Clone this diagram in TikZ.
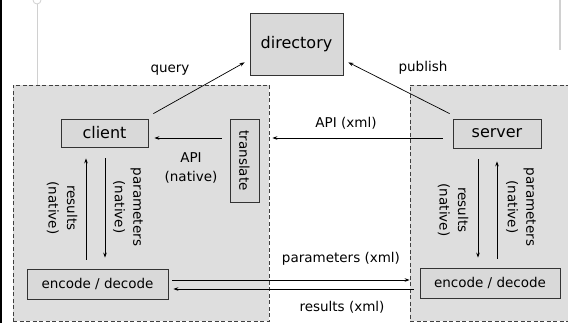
\documentclass[tikz,border=0pt]{standalone}
\usepackage{fontspec}
\setmainfont{DejaVu Sans}
\usetikzlibrary{arrows.meta,calc}
\definecolor{boxfill}{HTML}{D9D9D9}
\definecolor{boxline}{HTML}{333333}
\definecolor{artline}{HTML}{D0D0D0}
\definecolor{contfill}{HTML}{DEDEDE}
\begin{document}
\begin{tikzpicture}[x=1pt,y=-1pt,
  mainbox/.style={draw=boxline,fill=boxfill,line width=0.8pt,inner sep=0pt,font=\fontsize{16}{19}\selectfont},
  smallbox/.style={draw=boxline,fill=boxfill,line width=0.8pt,inner sep=0pt,font=\fontsize{13.5}{17}\selectfont},
  container/.style={draw=black!75,fill=contfill,line width=0.8pt,dash pattern=on 4pt off 2.5pt,inner sep=0pt},
  lbl/.style={font=\fontsize{13.5}{18.5}\selectfont,align=center,inner sep=0pt},
  arr/.style={line width=0.7pt,-{Stealth[length=5pt,width=3.6pt]}}]
\clip (0,0) rectangle (568,323);
\useasboundingbox (0,0) rectangle (568,323);
\fill[white] (0,0) rectangle (568,323);
% slide artifacts
\draw[black,line width=1.5pt] (0.75,0) -- (0.75,323);
\draw[artline,line width=1pt] (37,4) -- (37,85);
\draw[artline,line width=0.8pt] (37,0) circle (4);
\draw[artline,line width=1.5pt] (560,0) -- (560,50);
% containers
\node[container,minimum width=256,minimum height=236] (lbox) at (141,203) {};
\node[container,minimum width=170,minimum height=236] (rbox) at (495,203) {};
% nodes
\node[mainbox,minimum width=93,minimum height=62] (dir) at (296.5,44) {directory};
\node[mainbox,minimum width=87,minimum height=28] (client) at (104.5,133) {client};
\node[smallbox,minimum width=29,minimum height=83] (trans) at (244.5,160.5) {\rotatebox{-90}{translate}};
\node[smallbox,minimum width=141,minimum height=30] (encL) at (97.5,284) {encode / decode};
\node[mainbox,minimum width=88,minimum height=29] (server) at (497,133.5) {server};
\node[smallbox,minimum width=140,minimum height=30] (encR) at (490,283) {encode / decode};
% connectors
\draw[arr] ([xshift=5pt,yshift=5pt]client.north east) -- ([xshift=-5pt,yshift=13pt]dir.south west);
\draw[arr] ([xshift=-3pt,yshift=5pt]server.north west) -- ([xshift=5pt,yshift=13pt]dir.south east);
\draw[arr] ([xshift=-10pt,yshift=-4.5pt]server.west) -- ([xshift=3pt,yshift=-4.5pt]lbox.east |- server.west);
\draw[arr] ([xshift=-8pt,yshift=-5pt]trans.west |- client.east) -- ([xshift=6pt,yshift=-5pt]client.east);
\draw[arr] ([xshift=-11.5pt,yshift=9pt]encL.north) -- ([xshift=-18.5pt,yshift=-11pt]client.south);
\draw[arr] ([xshift=0.5pt,yshift=-11pt]client.south) -- ([xshift=7.5pt,yshift=11pt]encL.north);
\draw[arr] ([xshift=-19pt,yshift=-11pt]server.south) -- ([xshift=-12pt,yshift=10pt]encR.north);
\draw[arr] ([xshift=7pt,yshift=9pt]encR.north) -- ([xshift=0pt,yshift=-13pt]server.south);
\draw[arr] ([xshift=4pt,yshift=4pt]encL.east) -- ([xshift=0pt,yshift=4pt]rbox.west |- encL.east);
\draw[arr] ([xshift=4pt,yshift=-5pt]rbox.west |- encL.east) -- ([xshift=5pt,yshift=-5pt]encL.east);
% labels
\node[lbl] at (170,70) {query};
\node[lbl] at (423,68) {publish};
\node[lbl] at (346,123) {API (xml)};
\node[lbl] at (191,168) {API\\(native)};
\node[lbl,rotate=-90] at (62,208) {results\\(native)};
\node[lbl,rotate=-90] at (128,207) {parameters\\(native)};
\node[lbl,rotate=-90] at (453,210) {results\\(native)};
\node[lbl,rotate=-90] at (521,207) {parameters\\(native)};
\node[lbl] at (341,259) {parameters (xml)};
\node[lbl] at (342,307) {results (xml)};
\end{tikzpicture}
\end{document}
